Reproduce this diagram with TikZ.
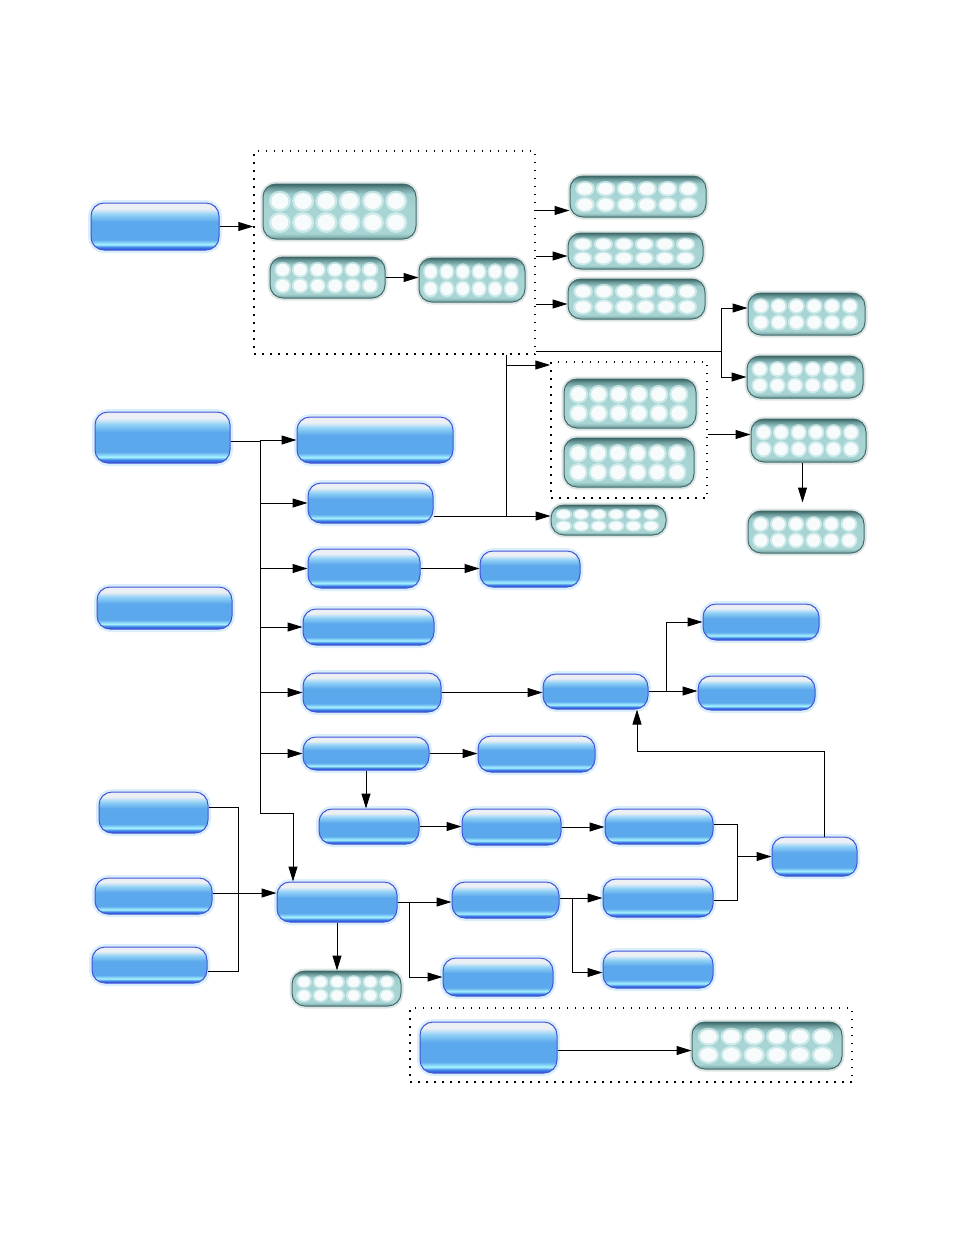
\documentclass[tikz,border=0pt]{standalone}
\usetikzlibrary{arrows.meta,calc}

\definecolor{gelEdge}{HTML}{4651D6}
\definecolor{gelDark}{HTML}{2C4FD4}
\definecolor{gelDeep}{HTML}{3C80E6}
\definecolor{gelCyan}{HTML}{A6F4FF}
\definecolor{gelMid}{HTML}{5CA8EC}
\definecolor{gelLite}{HTML}{92D2F6}
\definecolor{gelTop}{HTML}{ECF0F5}
\definecolor{pearlEdge}{HTML}{426C6C}
\definecolor{pearlDark}{HTML}{3C6666}
\definecolor{pearlLow}{HTML}{6E9C9C}
\definecolor{pearlBody}{HTML}{A9D4D4}
\definecolor{pearlMid}{HTML}{9CCACA}
\definecolor{pearlGlow}{HTML}{E6FAFA}

\pgfdeclareverticalshading{glossblue}{100bp}{color(0bp)=(gelDark); color(25bp)=(gelDark);
  color(28bp)=(gelDeep); color(31bp)=(gelCyan); color(36bp)=(gelMid); color(55bp)=(gelMid);
  color(63bp)=(gelLite); color(69bp)=(gelTop); color(75bp)=(gelTop); color(100bp)=(gelTop)}
\pgfdeclareverticalshading{glossteal}{100bp}{color(0bp)=(pearlLow); color(25bp)=(pearlLow);
  color(30bp)=(pearlBody); color(52bp)=(pearlBody); color(66bp)=(pearlMid);
  color(71bp)=(pearlLow); color(75bp)=(pearlDark); color(100bp)=(pearlDark)}

\tikzset{
  sz/.style 2 args={minimum width=#1pt,minimum height=#2pt},
  gel/.style={rounded corners=13pt,inner sep=0pt,line width=1pt,draw=gelEdge,shading=glossblue,
    preaction={draw=gelLite,line width=6pt,opacity=.35}},
  pearl/.style={rounded corners=13pt,inner sep=0pt,line width=1pt,draw=pearlEdge,shading=glossteal,
    preaction={draw=pearlEdge,line width=5pt,opacity=.18},
    path picture={
      \foreach \i in {0,...,5} \foreach \j in {0.31,0.7} {
        \fill[pearlGlow,opacity=.6] let \p1=(path picture bounding box.south west),
          \p2=(path picture bounding box.north east) in
          ({\x1+(\x2-\x1)*(0.11+\i*0.152)},{\y2-(\y2-\y1)*\j})
          ellipse[x radius={(\x2-\x1)*0.072},y radius={(\y2-\y1)*0.19}];
        \fill[white,opacity=.85] let \p1=(path picture bounding box.south west),
          \p2=(path picture bounding box.north east) in
          ({\x1+(\x2-\x1)*(0.11+\i*0.152)},{\y2-(\y2-\y1)*\j})
          ellipse[x radius={(\x2-\x1)*0.056},y radius={(\y2-\y1)*0.145}];
      }
    }},
  grp/.style={draw,inner sep=0pt,line width=1.5pt,dash pattern=on 1.5pt off 6.5pt},
}

\begin{document}
\begin{tikzpicture}[x=1pt,y=-1pt,>={Triangle[length=15pt,width=9pt]},line width=1pt]
  \useasboundingbox (0,0) rectangle (954,1235);

  % dotted groups
  \node[grp,sz={281}{203}] (grpA) at (394.5,252.5) {};
  \node[grp,sz={156}{136}] (grpB) at (629,430) {};
  \node[grp,sz={442}{74}] (grpC) at (631,1045) {};

  % blue buttons
  \node[gel,sz={128}{47}] (b1) at (155,226.5) {};
  \node[gel,sz={135}{51}] (b2) at (162.5,437.5) {};
  \node[gel,sz={135}{42}] (b3) at (164.5,608) {};
  \node[gel,sz={109}{41}] (b4) at (153.5,812.5) {};
  \node[gel,sz={117}{36}] (b5) at (153.5,896) {};
  \node[gel,sz={115}{36}] (b6) at (149.5,965) {};
  \node[gel,sz={156}{46}] (c1) at (375,440) {};
  \node[gel,sz={125}{40}] (c2) at (370.5,503) {};
  \node[gel,sz={112}{39}] (c3) at (364,568.5) {};
  \node[gel,sz={131}{36}] (c4) at (368.5,627) {};
  \node[gel,sz={138}{39}] (c5) at (372,692.5) {};
  \node[gel,sz={126}{33}] (c6) at (366,753.5) {};
  \node[gel,sz={100}{36}] (d) at (530,569) {};
  \node[gel,sz={105}{35}] (e) at (595.5,691.5) {};
  \node[gel,sz={116}{36}] (f1) at (761,622) {};
  \node[gel,sz={117}{34}] (f2) at (756.5,693) {};
  \node[gel,sz={117}{36}] (g) at (536.5,754) {};
  \node[gel,sz={100}{35}] (h1) at (369,826.5) {};
  \node[gel,sz={99}{36}] (h2) at (511.5,827) {};
  \node[gel,sz={108}{35}] (h3) at (659,826.5) {};
  \node[gel,sz={85}{39}] (k) at (814.5,856.5) {};
  \node[gel,sz={120}{40}] (m) at (337,902) {};
  \node[gel,sz={107}{36}] (n1) at (505.5,900) {};
  \node[gel,sz={110}{38}] (n2) at (658,898) {};
  \node[gel,sz={110}{38}] (p1) at (498,977) {};
  \node[gel,sz={110}{37}] (p2) at (658,969.5) {};
  \node[gel,sz={137}{51}] (q) at (488.5,1047.5) {};

  % teal buttons
  \node[pearl,sz={153}{55}] (t1) at (339.5,211.5) {};
  \node[pearl,sz={115}{41}] (t2) at (327.5,277.5) {};
  \node[pearl,sz={106}{44}] (t3) at (472,280) {};
  \node[pearl,sz={136}{41}] (t4) at (638,196.5) {};
  \node[pearl,sz={135}{36}] (t5) at (635.5,251) {};
  \node[pearl,sz={137}{40}] (t6) at (636.5,299) {};
  \node[pearl,sz={117}{42}] (t7) at (806.5,314) {};
  \node[pearl,sz={116}{42}] (t8) at (805,377) {};
  \node[pearl,sz={115}{43}] (t9) at (808.5,440.5) {};
  \node[pearl,sz={116}{42}] (t10) at (806,532) {};
  \node[pearl,sz={132}{49}] (t11) at (630,403.5) {};
  \node[pearl,sz={130}{49}] (t12) at (629,462.5) {};
  \node[pearl,sz={115}{30}] (t13) at (608.5,520) {};
  \node[pearl,sz={109}{35}] (t14) at (346.5,988.5) {};
  \node[pearl,sz={150}{47}] (t15) at (767,1045.5) {};

  % junction points
  \coordinate (sp) at (721,351);
  \coordinate (vk) at (506,365);
  \coordinate (vj) at (506,516);
  \coordinate (bt) at (260,441);
  \coordinate (bb) at (260,813);
  \coordinate (bk) at (293,813);
  \coordinate (ej) at (666,691);
  \coordinate (hj) at (737,824);
  \coordinate (hk) at (737,900);
  \coordinate (kt) at (824,751);
  \coordinate (ku) at (637,751);
  \coordinate (lt) at (238,807);
  \coordinate (lb) at (238,971);
  \coordinate (mj) at (409,902);
  \coordinate (nj) at (572,898);

  % top part
  \draw[->] (b1.east) -- (b1.east -| grpA.west);
  \draw[->] (t2.east) -- (t2.east -| t3.west);
  \draw[->] ([yshift=-14pt]t4.west -| grpA.east) -- ([yshift=-14pt]t4.west);
  \draw[->] ([yshift=-5pt]t5.west -| grpA.east) -- ([yshift=-5pt]t5.west);
  \draw[->] ([yshift=-5pt]t6.west -| grpA.east) -- ([yshift=-5pt]t6.west);
  \draw (grpA.east |- sp) -- (sp);
  \draw[->] (sp) |- ([yshift=6pt]t7.west);
  \draw[->] (sp) |- (t8.west);
  \draw (grpA.south -| vk) -- (vj);
  \draw[->] (vk) -- (vk -| grpB.west);
  \draw[->] ([yshift=-13pt]c2.east) -- ([yshift=-13pt]c2.east -| t13.west);
  \draw[->] ([yshift=6pt]t9.west -| grpB.east) -- ([yshift=6pt]t9.west);
  \draw[->,shorten >=8pt] ([xshift=-6pt]t9.south) -- ([xshift=-6pt]t9.south |- t10.north);

  % middle bus
  \draw (b2.east |- bt) -- (bt) -- (bb) -- (bk);
  \draw[->] (bk) -- (bk |- m.north);
  \foreach \n in {c1,c2,c3,c4,c5,c6}
    \draw[->] (bt |- \n) -- (\n.west);
  \draw[->] (c3.east) -- (c3.east -| d.west);
  \draw[->] (c5.east) -- (c5.east -| e.west);
  \draw (e.east |- ej) -- (ej);
  \draw[->] (ej) |- (f1.west);
  \draw[->] (ej) -- (ej -| f2.west);
  \draw[->] (c6.east) -- (c6.east -| g.west);
  \draw[->] (c6.south) -- (c6.south |- h1.north);
  \draw[->] (h1.east) -- (h1.east -| h2.west);
  \draw[->] (h2.east) -- (h2.east -| h3.west);
  \draw (h3.east |- hj) -- (hj) -- (hk) -- (n2.east |- hk);
  \draw[->] (hj |- k) -- (k.west);
  \draw[->] (kt |- k.north) -- (kt) -- (ku) -- (ku |- e.south);

  % bottom part
  \draw (b4.east |- lt) -- (lt) -- (lb) -- (b6.east |- lb);
  \draw[->] ([yshift=3pt]b5.east) -- ([yshift=3pt]b5.east -| m.west);
  \draw[->] (m.south) -- (m.south |- t14.north);
  \draw (m.east) -- (mj);
  \draw[->] (mj) -- (mj -| n1.west);
  \draw[->] (mj) |- (p1.west);
  \draw (n1.east |- nj) -- (nj);
  \draw[->] (nj) -- (nj -| n2.west);
  \draw[->] (nj) |- ([yshift=-3pt]p2.west);
  \draw[->] ([yshift=-3pt]q.east) -- ([yshift=-3pt]q.east -| t15.west);
\end{tikzpicture}
\end{document}
